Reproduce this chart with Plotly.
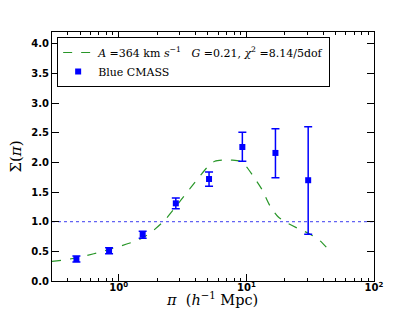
import plotly.graph_objects as go
import numpy as np

# Data
pi_obs = [0.466, 0.84, 1.54, 2.8, 5.1, 9.3, 16.9, 30.5]
sigma_obs = [0.37, 0.51, 0.78, 1.31, 1.72, 2.26, 2.16, 1.70]
err_up = [0.05, 0.05, 0.06, 0.09, 0.12, 0.25, 0.41, 0.90]
err_dn = [0.05, 0.05, 0.06, 0.09, 0.12, 0.24, 0.42, 0.91]

pi_model = [0.3, 0.466, 0.85, 1.55, 2.23, 3.19, 4.32, 5.0, 5.66, 6.5, 7.65, 8.9, 10.0, 11.3, 13.2, 15.3, 17.8, 20.7, 26.3, 31.6, 37.7, 44.4]
sigma_model = [0.33, 0.39, 0.535, 0.73, 1.0, 1.41, 1.77, 1.93, 2.02, 2.04, 2.04, 2.02, 1.93, 1.77, 1.55, 1.27, 1.08, 0.985, 0.87, 0.79, 0.68, 0.52]

x_range = [0.3, 100]
y_range = [0, 4.2]
y_ticks = [0.0, 0.5, 1.0, 1.5, 2.0, 2.5, 3.0, 3.5, 4.0]
x_ticks = [1, 10, 100]
x_ticktext = ["<b>10<sup>0</sup></b>", "<b>10<sup>1</sup></b>", "<b>10<sup>2</sup></b>"]
x_minor = [0.3, 0.4, 0.5, 0.6, 0.7, 0.8, 0.9, 2, 3, 4, 5, 6, 7, 8, 9, 20, 30, 40, 50, 60, 70, 80, 90]

label_model = "<i>A</i> =364 km <i>s</i><sup>−1</sup>   <i>G</i> =0.21, <i>χ</i><sup>2</sup> =8.14/5dof"
label_obs = "Blue CMASS"

fig = go.Figure()
fig.add_trace(go.Scatter(
    x=x_range, y=[1, 1], mode="lines",
    line=dict(color="rgb(60,60,240)", width=1, dash="dot"),
    showlegend=False, hoverinfo="skip"))
fig.add_trace(go.Scatter(
    x=pi_model, y=sigma_model, mode="lines", name=label_model,
    line=dict(color="rgb(40,150,40)", width=1.2, dash="dash", shape="spline", smoothing=0.8)))
fig.add_trace(go.Scatter(
    x=pi_obs, y=sigma_obs, mode="markers", name=label_obs,
    marker=dict(symbol="square", size=6, color="blue"),
    error_y=dict(type="data", symmetric=False, array=err_up, arrayminus=err_dn,
                 color="blue", thickness=1.5, width=4)))

axis_common = dict(
    showline=True, linecolor="black", linewidth=1, mirror="ticks",
    ticks="inside", tickcolor="black", showgrid=False, zeroline=False,
    automargin=False,
    tickfont=dict(family="DejaVu Sans", size=10, color="black"),
)

fig.update_xaxes(
    type="log", range=[np.log10(x_range[0]), np.log10(x_range[1])],
    tickmode="array", tickvals=x_ticks, ticktext=x_ticktext, ticklen=7,
    ticklabelstandoff=-3,
    minor=dict(tickmode="array", tickvals=x_minor, ticks="inside", ticklen=3, tickcolor="black"),
    **axis_common)
fig.update_yaxes(
    range=y_range, tickmode="array", tickvals=y_ticks,
    ticktext=[f"<b>{v:.1f}</b>" for v in y_ticks], ticklen=7,
    title=dict(text="Σ(<i>π</i>)", font=dict(family="DejaVu Serif", size=15, color="black"), standoff=6),
    **axis_common)

fig.add_annotation(
    text="<i>π</i>  (<i>h</i><sup>−1</sup> Mpc)", xref="paper", yref="paper",
    x=0.497, y=-0.072, xanchor="center", yanchor="middle", showarrow=False,
    font=dict(family="DejaVu Serif", size=14.5, color="black"))

fig.update_layout(
    width=415, height=312,
    margin=dict(l=52, r=41, t=32, b=31),
    paper_bgcolor="white", plot_bgcolor="white",
    legend=dict(x=0.016, y=0.98, xanchor="left", yanchor="top",
                bordercolor="black", borderwidth=1, bgcolor="white",
                font=dict(family="DejaVu Serif", size=11, color="black"),
                tracegroupgap=0, itemwidth=30),
)

fig.write_html("out.html", config={"displayModeBar": False},
               post_script="document.body.style.margin='0';document.body.style.padding='0';")
